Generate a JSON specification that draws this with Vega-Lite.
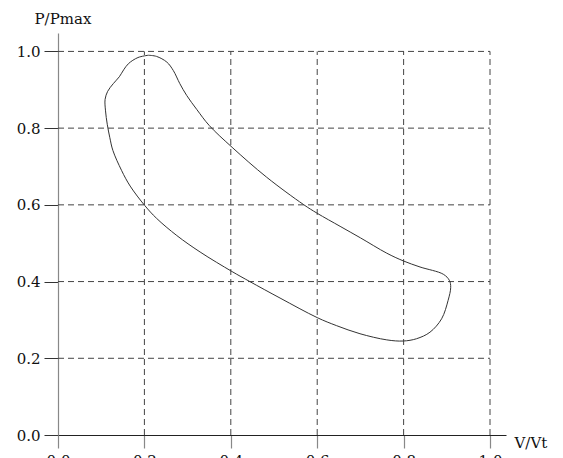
{
  "$schema": "https://vega.github.io/schema/vega-lite/v6.json",
  "width": 448,
  "height": 402,
  "autosize": {"type": "none"},
  "padding": {"left": 58, "top": 33, "right": 57, "bottom": 23},
  "background": "white",
  "config": {
    "view": {"stroke": null},
    "font": "DejaVu Serif",
    "axis": {"grid": false, "labelFont": "DejaVu Serif", "labelFontSize": 15, "labelColor": "#111", "titleFont": "DejaVu Serif", "titleFontSize": 15, "titleFontWeight": "normal", "titleColor": "#111"},
    "axisX": {"domainColor": "#222", "domainWidth": 1, "tickColor": "#888", "tickSize": 13, "tickWidth": 1.2, "labelPadding": 5, "labelFlush": false, "labelOverlap": false, "titleX": 456, "titleY": 12.5, "titleAlign": "left", "titleBaseline": "alphabetic", "titleAnchor": null},
    "axisY": {"domainColor": "#888", "domainWidth": 1.2, "tickColor": "#333", "tickSize": 14, "labelPadding": 4, "labelFlush": false, "labelOverlap": false, "titleAngle": 0, "titleX": -24, "titleY": -10, "titleAlign": "left", "titleBaseline": "alphabetic", "titleAnchor": null}
  },
  "datasets": {
    "grid": [
      {"x": 0.2, "x2": 0.2, "y": 0, "y2": 1},
      {"x": 0.4, "x2": 0.4, "y": 0, "y2": 1},
      {"x": 0.6, "x2": 0.6, "y": 0, "y2": 1},
      {"x": 0.8, "x2": 0.8, "y": 0, "y2": 1},
      {"x": 1.0, "x2": 1.0, "y": 0, "y2": 1},
      {"x": 0, "x2": 1, "y": 0.2, "y2": 0.2},
      {"x": 0, "x2": 1, "y": 0.4, "y2": 0.4},
      {"x": 0, "x2": 1, "y": 0.6, "y2": 0.6},
      {"x": 0, "x2": 1, "y": 0.8, "y2": 0.8},
      {"x": 0, "x2": 1, "y": 1.0, "y2": 1.0}
    ],
    "curve": [
      {"i": 1, "x": 0.209, "y": 0.990},
      {"i": 2, "x": 0.228, "y": 0.987},
      {"i": 3, "x": 0.252, "y": 0.972},
      {"i": 4, "x": 0.267, "y": 0.950},
      {"i": 5, "x": 0.282, "y": 0.916},
      {"i": 6, "x": 0.298, "y": 0.885},
      {"i": 7, "x": 0.321, "y": 0.849},
      {"i": 8, "x": 0.350, "y": 0.807},
      {"i": 9, "x": 0.403, "y": 0.750},
      {"i": 10, "x": 0.483, "y": 0.672},
      {"i": 11, "x": 0.568, "y": 0.601},
      {"i": 12, "x": 0.600, "y": 0.578},
      {"i": 13, "x": 0.653, "y": 0.544},
      {"i": 14, "x": 0.700, "y": 0.514},
      {"i": 15, "x": 0.761, "y": 0.474},
      {"i": 16, "x": 0.799, "y": 0.454},
      {"i": 17, "x": 0.838, "y": 0.438},
      {"i": 18, "x": 0.892, "y": 0.419},
      {"i": 19, "x": 0.906, "y": 0.403},
      {"i": 20, "x": 0.909, "y": 0.385},
      {"i": 21, "x": 0.903, "y": 0.351},
      {"i": 22, "x": 0.888, "y": 0.303},
      {"i": 23, "x": 0.861, "y": 0.268},
      {"i": 24, "x": 0.830, "y": 0.251},
      {"i": 25, "x": 0.799, "y": 0.245},
      {"i": 26, "x": 0.761, "y": 0.248},
      {"i": 27, "x": 0.699, "y": 0.264},
      {"i": 28, "x": 0.645, "y": 0.285},
      {"i": 29, "x": 0.600, "y": 0.306},
      {"i": 30, "x": 0.514, "y": 0.357},
      {"i": 31, "x": 0.444, "y": 0.400},
      {"i": 32, "x": 0.403, "y": 0.426},
      {"i": 33, "x": 0.329, "y": 0.477},
      {"i": 34, "x": 0.275, "y": 0.520},
      {"i": 35, "x": 0.228, "y": 0.565},
      {"i": 36, "x": 0.201, "y": 0.598},
      {"i": 37, "x": 0.167, "y": 0.649},
      {"i": 38, "x": 0.147, "y": 0.690},
      {"i": 39, "x": 0.127, "y": 0.742},
      {"i": 40, "x": 0.120, "y": 0.775},
      {"i": 41, "x": 0.114, "y": 0.810},
      {"i": 42, "x": 0.110, "y": 0.845},
      {"i": 43, "x": 0.109, "y": 0.875},
      {"i": 44, "x": 0.115, "y": 0.896},
      {"i": 45, "x": 0.128, "y": 0.916},
      {"i": 46, "x": 0.142, "y": 0.934},
      {"i": 47, "x": 0.152, "y": 0.952},
      {"i": 48, "x": 0.163, "y": 0.968},
      {"i": 49, "x": 0.185, "y": 0.984},
      {"i": 50, "x": 0.209, "y": 0.990}
    ]
  },
  "layer": [
    {
      "data": {"name": "grid"},
      "mark": {"type": "rule", "strokeDash": [6, 4], "color": "#444", "strokeWidth": 1},
      "encoding": {
        "x": {"field": "x", "type": "quantitative", "scale": {"domain": [0, 1.037], "nice": false, "zero": false}, "axis": {"values": [0, 0.2, 0.4, 0.6, 0.8, 1.0], "format": ".1f", "title": "V/Vt"}},
        "x2": {"field": "x2"},
        "y": {"field": "y", "type": "quantitative", "scale": {"domain": [0, 1.048], "nice": false, "zero": false}, "axis": {"values": [0, 0.2, 0.4, 0.6, 0.8, 1.0], "format": ".1f", "title": "P/Pmax"}},
        "y2": {"field": "y2"}
      }
    },
    {
      "data": {"name": "curve"},
      "mark": {"type": "line", "interpolate": "catmull-rom", "color": "#333", "strokeWidth": 1},
      "encoding": {
        "x": {"field": "x", "type": "quantitative", "axis": {"values": [0, 0.2, 0.4, 0.6, 0.8, 1.0], "format": ".1f", "title": "V/Vt"}},
        "y": {"field": "y", "type": "quantitative", "axis": {"values": [0, 0.2, 0.4, 0.6, 0.8, 1.0], "format": ".1f", "title": "P/Pmax"}},
        "order": {"field": "i", "type": "quantitative"}
      }
    }
  ]
}
